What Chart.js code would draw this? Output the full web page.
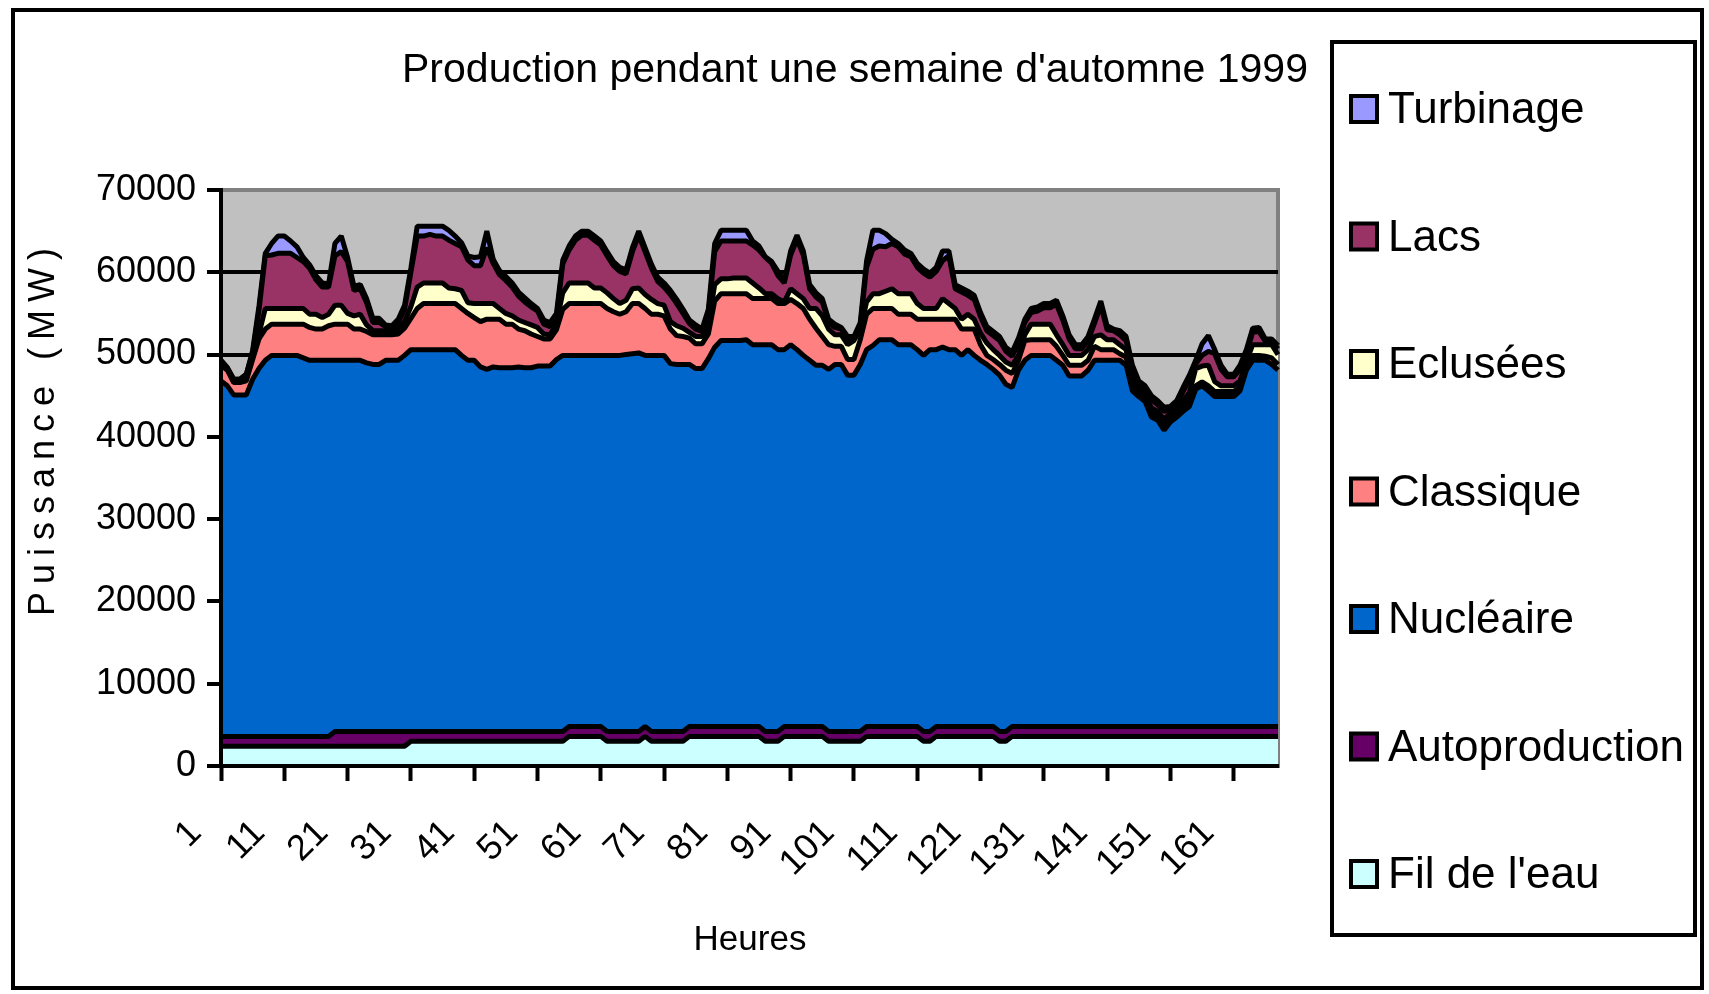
<!DOCTYPE html>
<html>
<head>
<meta charset="utf-8">
<title>Production pendant une semaine d'automne 1999</title>
<script src="https://cdn.jsdelivr.net/npm/chart.js@4.4.1/dist/chart.umd.min.js"></script>
<style>
  html, body { margin: 0; padding: 0; background: #fff; }
  canvas { display: block; }
</style>
</head>
<body>
<canvas id="prodChart" width="1709" height="994"></canvas>
<script>
const FONT = "Arial, 'Liberation Sans', sans-serif";

// heures de la semaine (categories)
const heures = [
  1, 2, 3, 4, 5, 6, 7, 8, 9, 10, 11, 12,
  13, 14, 15, 16, 17, 18, 19, 20, 21, 22, 23, 24,
  25, 26, 27, 28, 29, 30, 31, 32, 33, 34, 35, 36,
  37, 38, 39, 40, 41, 42, 43, 44, 45, 46, 47, 48,
  49, 50, 51, 52, 53, 54, 55, 56, 57, 58, 59, 60,
  61, 62, 63, 64, 65, 66, 67, 68, 69, 70, 71, 72,
  73, 74, 75, 76, 77, 78, 79, 80, 81, 82, 83, 84,
  85, 86, 87, 88, 89, 90, 91, 92, 93, 94, 95, 96,
  97, 98, 99, 100, 101, 102, 103, 104, 105, 106, 107, 108,
  109, 110, 111, 112, 113, 114, 115, 116, 117, 118, 119, 120,
  121, 122, 123, 124, 125, 126, 127, 128, 129, 130, 131, 132,
  133, 134, 135, 136, 137, 138, 139, 140, 141, 142, 143, 144,
  145, 146, 147, 148, 149, 150, 151, 152, 153, 154, 155, 156,
  157, 158, 159, 160, 161, 162, 163, 164, 165, 166, 167, 168
];

// puissance par filiere (MW)
const filDeLeau = [
  2400, 2400, 2400, 2400, 2400, 2400, 2400, 2400, 2400, 2400, 2400, 2400,
  2400, 2400, 2400, 2400, 2400, 2400, 2400, 2400, 2400, 2400, 2400, 2400,
  2400, 2400, 2400, 2400, 2400, 2400, 3000, 3000, 3000, 3000, 3000, 3000,
  3000, 3000, 3000, 3000, 3000, 3000, 3000, 3000, 3000, 3000, 3000, 3000,
  3000, 3000, 3000, 3000, 3000, 3000, 3000, 3600, 3600, 3600, 3600, 3600,
  3600, 3000, 3000, 3000, 3000, 3000, 3000, 3600, 3000, 3000, 3000, 3000,
  3000, 3000, 3600, 3600, 3600, 3600, 3600, 3600, 3600, 3600, 3600, 3600,
  3600, 3600, 3000, 3000, 3000, 3600, 3600, 3600, 3600, 3600, 3600, 3600,
  3000, 3000, 3000, 3000, 3000, 3000, 3600, 3600, 3600, 3600, 3600, 3600,
  3600, 3600, 3600, 3000, 3000, 3600, 3600, 3600, 3600, 3600, 3600, 3600,
  3600, 3600, 3600, 3000, 3000, 3600, 3600, 3600, 3600, 3600, 3600, 3600,
  3600, 3600, 3600, 3600, 3600, 3600, 3600, 3600, 3600, 3600, 3600, 3600,
  3600, 3600, 3600, 3600, 3600, 3600, 3600, 3600, 3600, 3600, 3600, 3600,
  3600, 3600, 3600, 3600, 3600, 3600, 3600, 3600, 3600, 3600, 3600, 3600
];

const autoproduction = [
  1200, 1200, 1200, 1200, 1200, 1200, 1200, 1200, 1200, 1200, 1200, 1200,
  1200, 1200, 1200, 1200, 1200, 1200, 1800, 1800, 1800, 1800, 1800, 1800,
  1800, 1800, 1800, 1800, 1800, 1800, 1200, 1200, 1200, 1200, 1200, 1200,
  1200, 1200, 1200, 1200, 1200, 1200, 1200, 1200, 1200, 1200, 1200, 1200,
  1200, 1200, 1200, 1200, 1200, 1200, 1200, 1200, 1200, 1200, 1200, 1200,
  1200, 1200, 1200, 1200, 1200, 1200, 1200, 1200, 1200, 1200, 1200, 1200,
  1200, 1200, 1200, 1200, 1200, 1200, 1200, 1200, 1200, 1200, 1200, 1200,
  1200, 1200, 1200, 1200, 1200, 1200, 1200, 1200, 1200, 1200, 1200, 1200,
  1200, 1200, 1200, 1200, 1200, 1200, 1200, 1200, 1200, 1200, 1200, 1200,
  1200, 1200, 1200, 1200, 1200, 1200, 1200, 1200, 1200, 1200, 1200, 1200,
  1200, 1200, 1200, 1200, 1200, 1200, 1200, 1200, 1200, 1200, 1200, 1200,
  1200, 1200, 1200, 1200, 1200, 1200, 1200, 1200, 1200, 1200, 1200, 1200,
  1200, 1200, 1200, 1200, 1200, 1200, 1200, 1200, 1200, 1200, 1200, 1200,
  1200, 1200, 1200, 1200, 1200, 1200, 1200, 1200, 1200, 1200, 1200, 1200
];

const nucleaire = [
  43200, 42600, 41500, 41500, 41500, 43400, 44700, 45700, 46300, 46300, 46300, 46300,
  46300, 46000, 45700, 45700, 45700, 45700, 45100, 45100, 45100, 45100, 45100, 44800,
  44600, 44600, 45100, 45100, 45100, 45700, 46400, 46400, 46400, 46400, 46400, 46400,
  46400, 46400, 45700, 45100, 45100, 44300, 44000, 44300, 44200, 44200, 44200, 44300,
  44200, 44200, 44400, 44400, 44400, 45200, 45700, 45100, 45100, 45100, 45100, 45100,
  45100, 45700, 45700, 45700, 45800, 45900, 46000, 45100, 45700, 45700, 45700, 44700,
  44600, 44600, 44000, 43500, 43500, 44700, 46100, 46900, 46900, 46900, 46900, 47000,
  46400, 46400, 47000, 47000, 46400, 45800, 46400, 45800, 45100, 44500, 43900, 43900,
  44000, 44600, 44600, 43300, 43300, 44600, 45800, 46300, 47000, 47000, 47000, 46400,
  46400, 46400, 45800, 45700, 46400, 45800, 46100, 45800, 45800, 45100, 45800, 45100,
  44500, 44000, 43400, 43300, 42200, 41200, 43300, 44500, 45100, 45100, 45100, 45100,
  44500, 43900, 42600, 42600, 42600, 43300, 44500, 44500, 44500, 44500, 44500, 43900,
  40800, 40100, 39500, 37600, 37200, 36000, 37000, 37600, 38300, 38900, 41000, 41400,
  40800, 40100, 40100, 40100, 40100, 40800, 43300, 44500, 44500, 44500, 44000, 43300
];

const classique = [
  1900, 1900, 1500, 1500, 1700, 2400, 3600, 3800, 3800, 3800, 3800, 3800,
  3800, 4100, 4000, 3800, 3800, 4200, 4400, 4400, 4400, 3800, 3800, 3800,
  3600, 3600, 3100, 3100, 3200, 3300, 3800, 5000, 5600, 5600, 5600, 5600,
  5600, 5600, 5700, 5700, 5200, 5500, 6100, 5800, 5900, 5300, 5300, 4600,
  4500, 4100, 3600, 3300, 3300, 3600, 5600, 6300, 6300, 6300, 6300, 6300,
  6300, 5700, 5300, 5000, 5200, 6100, 6000, 5700, 5000, 5000, 4800, 4200,
  3500, 3400, 3200, 3000, 3000, 3000, 5600, 5700, 5700, 5700, 5700, 5600,
  5600, 5600, 5600, 5600, 5600, 5600, 5500, 5600, 5700, 5000, 4500, 3500,
  3000, 2200, 2200, 1900, 1900, 3000, 4300, 4500, 3800, 3800, 3800, 3700,
  3700, 3700, 3700, 4400, 3700, 3700, 3400, 3700, 3700, 3200, 2500, 3200,
  1900, 1100, 1200, 1300, 1700, 1700, 1200, 2400, 1900, 1900, 1900, 1900,
  1700, 1200, 1300, 1300, 1300, 1200, 1700, 1300, 1300, 1300, 800, 1000,
  600, 400, 400, 600, 600, 700, 600, 600, 600, 800, 400, 500,
  600, 600, 600, 600, 600, 500, 500, 600, 600, 500, 800, 700
];

const eclusees = [
  200, 200, 200, 200, 400, 400, 600, 2500, 1900, 1900, 1900, 1900,
  1900, 1900, 1600, 1800, 1400, 1400, 2300, 2300, 1300, 1600, 1800, 800,
  500, 500, 500, 400, 600, 800, 1400, 2600, 2500, 2500, 2500, 2500,
  1900, 1800, 2200, 1300, 1700, 2200, 1900, 1900, 1300, 1300, 1000, 1100,
  1000, 1100, 1100, 600, 500, 800, 2000, 2500, 2500, 2500, 2500, 1900,
  1900, 1900, 1600, 1300, 1400, 1800, 1900, 1700, 1800, 1300, 1300, 900,
  1200, 1000, 700, 900, 900, 1000, 2000, 1800, 1800, 1900, 1900, 1900,
  1900, 1300, 600, 600, 600, 200, 1300, 1200, 1200, 1300, 2400, 2500,
  1900, 1400, 1400, 1800, 2300, 1200, 1500, 1800, 1800, 2100, 2400, 2500,
  2500, 2500, 1900, 1300, 1300, 1300, 2500, 1900, 1300, 1200, 1800, 1200,
  1400, 1500, 1200, 1100, 1000, 1000, 600, 700, 1900, 1900, 1900, 1900,
  1400, 1300, 1200, 1200, 1200, 1300, 1200, 1800, 1200, 1200, 1100, 900,
  600, 400, 500, 500, 500, 600, 500, 500, 700, 900, 2100, 1900,
  2500, 1200, 700, 700, 700, 700, 500, 1300, 1300, 1400, 1600, 1200
];

const lacs = [
  400, 100, 200, 200, 400, 400, 2900, 6400, 6500, 6700, 6700, 6700,
  6200, 5700, 5600, 4200, 3700, 3300, 6000, 6500, 6300, 3100, 3100, 2700,
  1000, 1000, 500, 400, 800, 1500, 4200, 6200, 5700, 5900, 5700, 5700,
  5800, 5500, 5300, 5200, 4600, 4600, 6800, 4900, 4100, 4000, 3500, 2900,
  2500, 2200, 2000, 1200, 1000, 700, 3500, 4000, 5200, 5800, 5800, 5800,
  5200, 4500, 4000, 3900, 3200, 4500, 6400, 5200, 3800, 2700, 2200, 3300,
  2700, 1800, 1100, 900, 600, 1500, 4000, 4600, 4600, 4500, 4500, 4500,
  4600, 4600, 4400, 3700, 2800, 2300, 4100, 6600, 5300, 2400, 1400, 1700,
  800, 900, 700, 600, 300, 500, 4200, 5400, 5800, 5400, 5500, 5700,
  4800, 4500, 4400, 4300, 3800, 4500, 4600, 5800, 2400, 3300, 2300, 2400,
  2000, 1500, 1700, 1800, 1300, 1100, 1600, 1500, 1400, 1600, 2000, 2000,
  3700, 3000, 2000, 800, 800, 1100, 1600, 3600, 1200, 1100, 1200, 1100,
  1400, 600, 500, 1000, 800, 1000, 400, 500, 1100, 1600, 600, 1300,
  1700, 3400, 2000, 1100, 1100, 1400, 1000, 1500, 1600, 400, 400, 700
];

const turbinage = [
  0, 0, 0, 0, 0, 300, 500, 300, 1400, 2100, 2100, 1500,
  1300, 500, 400, 500, 500, 400, 1500, 1900, 500, 500, 500, 500,
  500, 500, 200, 300, 400, 500, 500, 1200, 1200, 1000, 1200, 1200,
  1200, 900, 500, 500, 1000, 1100, 2000, 500, 500, 500, 500, 500,
  500, 400, 300, 500, 500, 500, 500, 500, 500, 500, 500, 500,
  500, 500, 500, 500, 500, 500, 500, 500, 500, 500, 500, 500,
  500, 500, 400, 500, 300, 500, 1000, 1300, 1300, 1300, 1300, 1300,
  500, 500, 100, 200, 500, 200, 500, 500, 500, 500, 500, 400,
  400, 400, 200, 400, 200, 400, 800, 2300, 1900, 1600, 500, 400,
  500, 400, 500, 500, 500, 500, 1200, 600, 500, 500, 500, 500,
  500, 500, 500, 500, 500, 500, 500, 400, 500, 500, 500, 500,
  500, 500, 500, 500, 500, 500, 500, 500, 500, 200, 500, 500,
  500, 500, 500, 500, 500, 500, 400, 400, 500, 500, 400, 1400,
  1900, 500, 500, 300, 300, 500, 500, 500, 500, 300, 300, 400
];

const yTicks = [0, 10000, 20000, 30000, 40000, 50000, 60000, 70000];

function area(label, data, color, fill) {
  return {
    label: label,
    data: data,
    backgroundColor: color,
    borderColor: '#000000',
    borderWidth: 5,
    fill: fill,
    pointRadius: 0,
    tension: 0
  };
}

// fond gris, cadres, titres et legende encadree
const decor = {
  id: 'decor',
  beforeDraw(chart) {
    const { ctx, chartArea: a } = chart;
    ctx.save();
    ctx.fillStyle = '#ffffff';
    ctx.fillRect(0, 0, chart.width, chart.height);
    ctx.fillStyle = '#c0c0c0';
    ctx.fillRect(a.left, a.top, a.right - a.left, a.bottom - a.top);
    ctx.strokeStyle = '#808080';
    ctx.lineWidth = 4;
    ctx.strokeRect(a.left, a.top, a.right - a.left, a.bottom - a.top);
    ctx.restore();
  },
  afterDraw(chart) {
    const { ctx } = chart;
    ctx.save();
    ctx.strokeStyle = '#000';
    ctx.lineWidth = 4;
    ctx.strokeRect(13, 10, 1689, 978);

    ctx.fillStyle = '#000';
    ctx.textBaseline = 'middle';
    ctx.textAlign = 'center';
    ctx.font = '41px ' + FONT;
    ctx.fillText("Production pendant une semaine d'automne 1999", 855, 71);

    ctx.font = '35px ' + FONT;
    ctx.fillText('Heures', 750, 940);

    ctx.save();
    ctx.translate(44, 428);
    ctx.rotate(-Math.PI / 2);
    ctx.font = '36px ' + FONT;
    ctx.letterSpacing = '8px';
    ctx.fillText('Puissance (MW)', 0, 0);
    ctx.restore();

    // legende
    ctx.strokeRect(1332, 42, 363, 893);
    ctx.textAlign = 'left';
    ctx.font = '44px ' + FONT;
    const items = chart.data.datasets.slice().reverse();
    items.forEach((ds, i) => {
      const cy = 109 + i * 127.5;
      ctx.fillStyle = ds.backgroundColor;
      ctx.fillRect(1351, cy - 13, 26, 26);
      ctx.strokeRect(1351, cy - 13, 26, 26);
      ctx.fillStyle = '#000';
      ctx.fillText(ds.label, 1388, cy + 2);
    });
    ctx.restore();
  }
};

new Chart(document.getElementById('prodChart'), {
  type: 'line',
  data: {
    labels: heures,
    datasets: [
      area("Fil de l'eau", filDeLeau, '#ccffff', 'origin'),
      area('Autoproduction', autoproduction, '#660066', '-1'),
      area('Nucléaire', nucleaire, '#0066cc', '-1'),
      area('Classique', classique, '#ff8080', '-1'),
      area('Eclusées', eclusees, '#ffffcc', '-1'),
      area('Lacs', lacs, '#993366', '-1'),
      area('Turbinage', turbinage, '#9999ff', '-1')
    ]
  },
  options: {
    responsive: false,
    devicePixelRatio: 1,
    animation: false,
    events: [],
    layout: { padding: { left: 0, top: 190, right: 431, bottom: 0 } },
    elements: { line: { borderJoinStyle: 'bevel' } },
    plugins: {
      legend: { display: false },
      title: { display: false },
      tooltip: { enabled: false }
    },
    scales: {
      x: {
        type: 'category',
        offset: false,
        grid: {
          drawOnChartArea: false,
          tickLength: 15,
          tickWidth: 4,
          tickColor: c => (c.index % 10 === 0 ? '#000' : 'rgba(0,0,0,0)')
        },
        border: { color: '#000', width: 4, z: 1 },
        ticks: {
          autoSkip: false,
          minRotation: 45,
          maxRotation: 45,
          color: '#000',
          font: { family: FONT, size: 36 },
          padding: 31,
          labelOffset: -25,
          callback: (v, i) => (i % 10 === 0 ? String(heures[i]) : '')
        },
        afterFit: s => { s.height = 228; }
      },
      y: {
        stacked: true,
        min: 0,
        max: 70000,
        afterBuildTicks: s => { s.ticks = yTicks.map(v => ({ value: v })); },
        grid: {
          color: c => (c.tick && c.tick.value === 70000 ? 'rgba(0,0,0,0)' : '#000'),
          lineWidth: 4,
          tickLength: 14,
          tickWidth: 4,
          tickColor: '#000'
        },
        border: { color: '#000', width: 4, z: 1 },
        ticks: {
          color: '#000',
          font: { family: FONT, size: 36 },
          padding: 11,
          callback: v => String(v)
        },
        afterFit: s => { s.width = 221; }
      }
    }
  },
  plugins: [decor]
});
</script>
</body>
</html>
